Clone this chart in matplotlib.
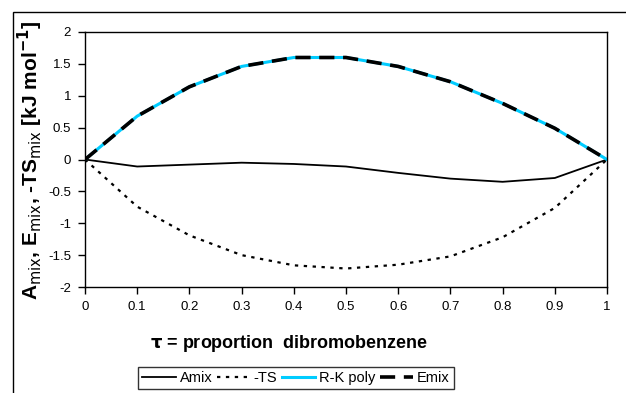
import matplotlib.pyplot as plt
from matplotlib.patches import Rectangle

plt.rcParams['font.family'] = ['Liberation Sans', 'DejaVu Sans']

# dane
tau = [0, 0.1, 0.2, 0.3, 0.4, 0.5, 0.6, 0.7, 0.8, 0.9, 1.0]
amix = [0, -0.11, -0.08, -0.05, -0.07, -0.11, -0.21, -0.30, -0.35, -0.29, 0]
ts = [0, -0.74, -1.19, -1.50, -1.66, -1.71, -1.65, -1.52, -1.22, -0.76, 0]
rk_poly = [0, 0.68, 1.14, 1.46, 1.60, 1.60, 1.46, 1.22, 0.88, 0.49, 0]
emix = [0, 0.68, 1.14, 1.46, 1.60, 1.60, 1.46, 1.22, 0.88, 0.49, 0]

W, H = 626, 393
fig = plt.figure(figsize=(W / 100, H / 100), dpi=100)

# ramka wokol calego wykresu (jak w Excelu)
fig.patches.append(Rectangle((13 / W, -0.1), 1.2, 1 - 12 / H + 0.1,
                             transform=fig.transFigure, fill=False,
                             edgecolor='black', lw=1.0))

ax = fig.add_axes([85 / W, 1 - 287 / H, (607 - 85) / W, (287 - 32) / H])

ax.plot(tau, amix, color='black', lw=1.3, label='Amix')
ax.plot(tau, ts, color='black', lw=1.6, ls=(0, (1.5, 2.5)), label='-TS')
ax.plot(tau, rk_poly, color='#00CCFF', lw=2.2, label='R-K poly')
ax.plot(tau, emix, color='black', lw=2.6, ls=(0, (4.2, 2.4)), label='Emix')

ax.set_xlim(0, 1)
ax.set_ylim(-2, 2)
ax.set_xticks(tau)
ax.set_xticklabels(['0', '0.1', '0.2', '0.3', '0.4', '0.5', '0.6', '0.7',
                    '0.8', '0.9', '1'])
ax.set_yticks([-2, -1.5, -1, -0.5, 0, 0.5, 1, 1.5, 2])
ax.set_yticklabels(['-2', '-1.5', '-1', '-0.5', '0', '0.5', '1', '1.5', '2'])
ax.tick_params(axis='both', direction='out', length=5, width=1, labelsize=9.5, pad=5)
for s in ax.spines.values():
    s.set_linewidth(1.0)

fig.text(289 / W, 1 - 343 / H, r'$\mathbf{\tau}$ = proportion  dibromobenzene',
         ha='center', va='center', fontsize=13, fontweight='bold')
fig.text(30 / W, 1 - 160 / H,
         r'A$_{\mathrm{mix}}$, E$_{\mathrm{mix}}$, -TS$_{\mathrm{mix}}$ [kJ mol$^{\mathbf{-1}}$]',
         ha='center', va='center', rotation=90, fontsize=15, fontweight='bold')

leg = fig.legend(loc='center', bbox_to_anchor=(296 / W, 1 - 378 / H), ncol=4,
                 fontsize=10.5, frameon=True, fancybox=False, edgecolor='black',
                 handlelength=2.3, handletextpad=0.25, columnspacing=0.3,
                 borderpad=0.3, borderaxespad=0)
leg.get_frame().set_linewidth(1.0)

fig.savefig('out.png', dpi=100)
